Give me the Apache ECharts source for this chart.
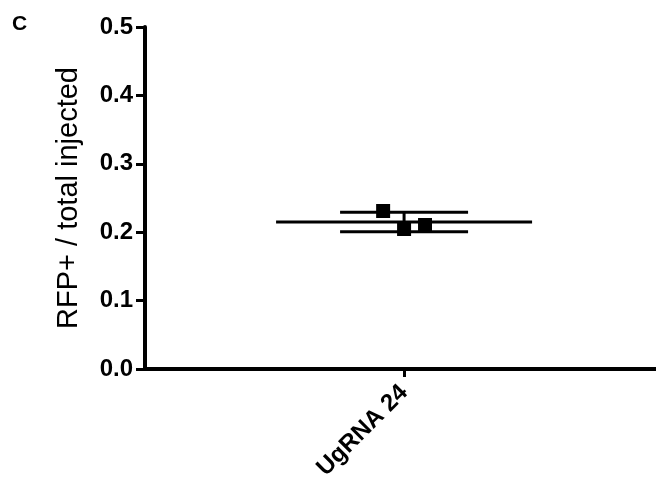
<!DOCTYPE html>
<html>
<head>
<meta charset="utf-8">
<script src="https://cdn.jsdelivr.net/npm/echarts@6/dist/echarts.min.js"></script>
<style>
  html, body { margin: 0; padding: 0; background: #fff; }
  #chart { width: 656px; height: 489px; }
</style>
</head>
<body>
<div id="chart"></div>
<script>
// 数据
const groupName = 'UgRNA 24';
const groupX = 0.507;
const pointX = [0.466, 0.507, 0.548];
const pointY = [0.231, 0.2047, 0.2105];
const meanY = 0.215;
const sdLow = 0.2007;
const sdHigh = 0.229;
const yTicks = [0, 0.1, 0.2, 0.3, 0.4, 0.5];

const chart = echarts.init(document.getElementById('chart'));

const font = 'Arial, "Liberation Sans", sans-serif';

const option = {
  animation: false,
  graphic: [
    {
      type: 'text',
      left: 12,
      top: 14,
      style: { text: 'C', font: 'bold 21px ' + font, fill: '#000' },
    },
  ],
  grid: { left: 145, right: 0, top: 27, bottom: 120 },
  xAxis: {
    type: 'value',
    min: 0,
    max: 1,
    splitLine: { show: false },
    axisLine: { show: true, onZero: false, lineStyle: { color: '#000', width: 4 } },
    axisTick: { show: true, length: 8, lineStyle: { color: '#000', width: 3 }, customValues: [groupX] },
    axisLabel: {
      customValues: [groupX],
      formatter: () => groupName,
      rotate: 45,
      margin: 20,
      fontFamily: font,
      fontSize: 24,
      fontWeight: 'bold',
      color: '#000',
    },
  },
  yAxis: {
    type: 'value',
    min: yTicks[0],
    max: yTicks[yTicks.length - 1],
    interval: 0.1,
    name: 'RFP+ / total injected',
    nameLocation: 'middle',
    nameGap: 62,
    nameTextStyle: { fontFamily: font, fontSize: 29, color: '#000' },
    splitLine: { show: false },
    axisLine: { show: true, lineStyle: { color: '#000', width: 4 } },
    axisTick: { show: true, length: 9, lineStyle: { color: '#000', width: 3 } },
    axisLabel: {
      margin: 12,
      formatter: (v) => v.toFixed(1),
      fontFamily: font,
      fontSize: 24,
      fontWeight: 'bold',
      color: '#000',
    },
  },
  series: [
    {
      // 均值 ± SD
      type: 'custom',
      z: 2,
      data: [[groupX, meanY, sdLow, sdHigh]],
      renderItem: (params, api) => {
        const m = api.coord([api.value(0), api.value(1)]);
        const lo = api.coord([api.value(0), api.value(2)]);
        const hi = api.coord([api.value(0), api.value(3)]);
        const style = { stroke: '#000', lineWidth: 3 };
        return {
          type: 'group',
          children: [
            { type: 'line', shape: { x1: m[0] - 128, y1: m[1], x2: m[0] + 128, y2: m[1] }, style },
            { type: 'line', shape: { x1: hi[0], y1: hi[1], x2: lo[0], y2: lo[1] }, style },
            { type: 'line', shape: { x1: hi[0] - 64, y1: hi[1], x2: hi[0] + 64, y2: hi[1] }, style },
            { type: 'line', shape: { x1: lo[0] - 64, y1: lo[1], x2: lo[0] + 64, y2: lo[1] }, style },
          ],
        };
      },
    },
    {
      type: 'scatter',
      z: 3,
      symbol: 'rect',
      symbolSize: 14,
      itemStyle: { color: '#000', opacity: 1 },
      data: pointX.map((x, i) => [x, pointY[i]]),
    },
  ],
};

chart.setOption(option);
window.addEventListener('resize', () => chart.resize());
</script>
</body>
</html>
